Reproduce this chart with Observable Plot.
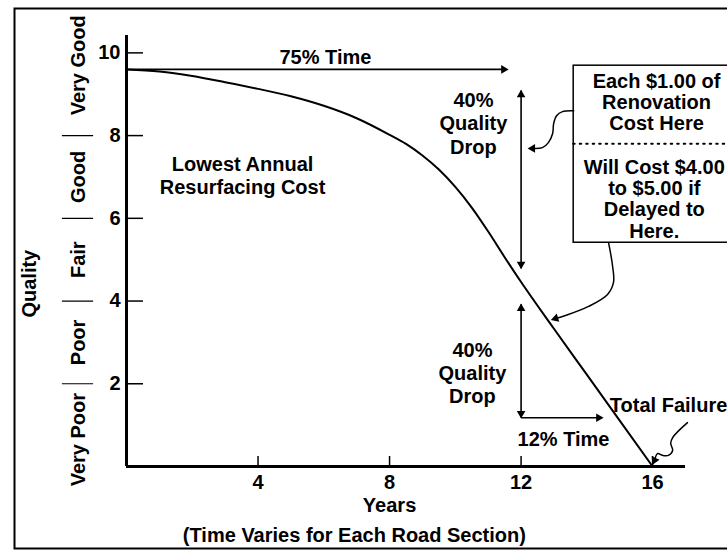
<!DOCTYPE html>
<html><head><meta charset="utf-8">
<script src="https://cdn.jsdelivr.net/npm/d3@7"></script>
<script src="https://cdn.jsdelivr.net/npm/@observablehq/plot@0.6"></script>
<style>html,body{margin:0;padding:0;background:#fff;}</style>
</head><body><div id="chart"></div>
<script>
// Deterioration curve
const years   = [0, 1, 2, 3, 4, 5, 6, 7, 8, 8.5, 9, 9.5, 10, 10.5, 11, 11.5, 12, 13, 14, 15, 16];
const quality = [9.6, 9.55, 9.44, 9.29, 9.13, 8.95, 8.72, 8.42, 8.02, 7.8, 7.52, 7.18, 6.76, 6.26, 5.68, 5.06, 4.46, 3.33, 2.22, 1.11, 0];

// Axes
const xTicks = [4, 8, 12, 16];
const yTicks = [2, 4, 6, 8, 10];
const bandLabels  = ["Very Poor", "Poor", "Fair", "Good", "Very Good"];
const bandCenters = [0.65, 3, 5, 7, 9.7];
const bandBreaks  = [2, 4, 6, 8];

// Straight annotation arrows
const segX1 = [0, 12, 12, 12];
const segY1 = [9.6, 9.09, 3.92, 1.18];
const segX2 = [11.55, 12, 12, 14.45];
const segY2 = [9.6, 4.79, 1.18, 1.18];

// Arrow heads (position, rotation in degrees)
const headX   = [11.47, 12, 12, 12, 12, 14.36, 12.35, 13.05, 16.06];
const headY   = [9.6, 8.99, 4.89, 3.82, 1.28, 1.18, 7.69, 3.58, 0.15];
const headRot = [90, 0, 180, 0, 180, 90, 270, 253, 204];

// Curly connector lines
const curly1X = [13.6, 13.26, 13.08, 12.99, 12.96, 12.83, 12.65, 12.38, 12.3];
const curly1Y = [8.6, 8.58, 8.48, 8.29, 8.05, 7.83, 7.71, 7.69, 7.69];
const curly2X = [14.66, 14.78, 14.81, 14.63, 14.05, 13.35, 13.05];
const curly2Y = [5.41, 4.86, 4.45, 4.16, 3.87, 3.65, 3.58];
const squigX  = [17.06, 16.61, 16.55, 16.61, 16.48, 16.30, 16.15, 16.06];
const squigY  = [1.06, 0.70, 0.56, 0.39, 0.27, 0.27, 0.31, 0.15];

// Callout box
const boxX = [13.6, 20];
const boxY = [5.41, 9.69];
const boxDividerY = [7.8];

// Annotation texts
const notes   = ["75% Time", "40%\nQuality\nDrop", "40%\nQuality\nDrop", "12% Time", "Lowest Annual\nResurfacing Cost"];
const notesX  = [6.05, 10.55, 10.52, 13.29, 3.53];
const notesY  = [9.91, 8.31, 2.27, 0.68, 7.05];
const boxTexts  = ["Each $1.00 of\nRenovation\nCost Here", "Will Cost $4.00\nto $5.00 if\nDelayed to\nHere."];
const boxTextX  = [16.12, 16.05];
const boxTextY  = [8.81, 6.47];
const failLabel = ["Total Failure"];
const failX = [14.7];
const failY = [1.47];
const axisTitles = ["Years", "(Time Varies for Each Road Section)"];
const axisTitleX = [8, 6.93];
const axisTitleY = [-0.95, -1.67];
const yTitle = ["Quality"];

const curve = years.map((x, i) => ({x, y: quality[i]}));
const segs = segX1.map((d, i) => ({x1: d, y1: segY1[i], x2: segX2[i], y2: segY2[i]}));
const heads = headX.map((d, i) => ({x: d, y: headY[i], r: headRot[i]}));
const connectors = [
  ...curly1X.map((x, i) => ({x, y: curly1Y[i], k: "a"})),
  ...curly2X.map((x, i) => ({x, y: curly2Y[i], k: "b"})),
  ...squigX.map((x, i) => ({x, y: squigY[i], k: "c"}))
];

const chart = Plot.plot({
  width: 727,
  height: 551,
  marginLeft: 126,
  marginRight: 42,
  marginTop: 35,
  marginBottom: 85,
  x: {domain: [0, 17]},
  y: {domain: [0, 10.42]},
  style: {fontFamily: "'Liberation Sans', Arial, sans-serif", fontSize: "20px", fontWeight: "bold", color: "black", background: "white", overflow: "visible"},
  marks: [
    Plot.frame({insetLeft: -112, insetTop: -27, insetBottom: -82, insetRight: -80, strokeWidth: 2}),
    Plot.axisY(yTicks, {tickSize: -17, tickPadding: 23, label: null, strokeWidth: 1.5}),
    Plot.axisX(xTicks, {tickSize: -10, tickPadding: 18, label: null, strokeWidth: 1.5}),
    Plot.ruleX([0], {strokeWidth: 3}),
    Plot.ruleY([0], {strokeWidth: 3}),
    Plot.ruleY(bandBreaks, {x1: -1.95, x2: -1.0, strokeWidth: 1.2}),
    Plot.text(bandLabels, {x: -1.46, y: (d, i) => bandCenters[i], text: d => d, rotate: -90}),
    Plot.text(yTitle, {x: -2.95, y: 4.42, text: d => d, rotate: -90}),
    Plot.text(axisTitles, {x: (d, i) => axisTitleX[i], y: (d, i) => axisTitleY[i], text: d => d}),
    Plot.line(curve, {x: "x", y: "y", curve: "monotone-x", strokeWidth: 2}),
    Plot.link(segs, {x1: "x1", y1: "y1", x2: "x2", y2: "y2", strokeWidth: 1.6}),
    Plot.line(connectors, {x: "x", y: "y", z: "k", curve: "catmull-rom", strokeWidth: 1.5}),
    Plot.dot(heads, {x: "x", y: "y", rotate: "r", symbol: "triangle", r: 3.2, fill: "black", stroke: null}),
    Plot.rect(boxX.slice(0, 1), {x1: boxX[0], x2: boxX[1], y1: boxY[0], y2: boxY[1], fill: "none", stroke: "black", strokeWidth: 1.5}),
    Plot.ruleY(boxDividerY, {x1: boxX[0], x2: boxX[1], strokeDasharray: "1.5,5", strokeWidth: 2, strokeLinecap: "round"}),
    Plot.text(notes, {x: (d, i) => notesX[i], y: (d, i) => notesY[i], text: d => d, lineHeight: 1.17}),
    Plot.text(boxTexts, {x: (d, i) => boxTextX[i], y: (d, i) => boxTextY[i], text: d => d, lineHeight: 1.07, letterSpacing: "0.4px"}),
    Plot.text(failLabel, {x: (d, i) => failX[i], y: (d, i) => failY[i], text: d => d, textAnchor: "start"})
  ]
});
document.getElementById("chart").appendChild(chart);
</script>
</body></html>
